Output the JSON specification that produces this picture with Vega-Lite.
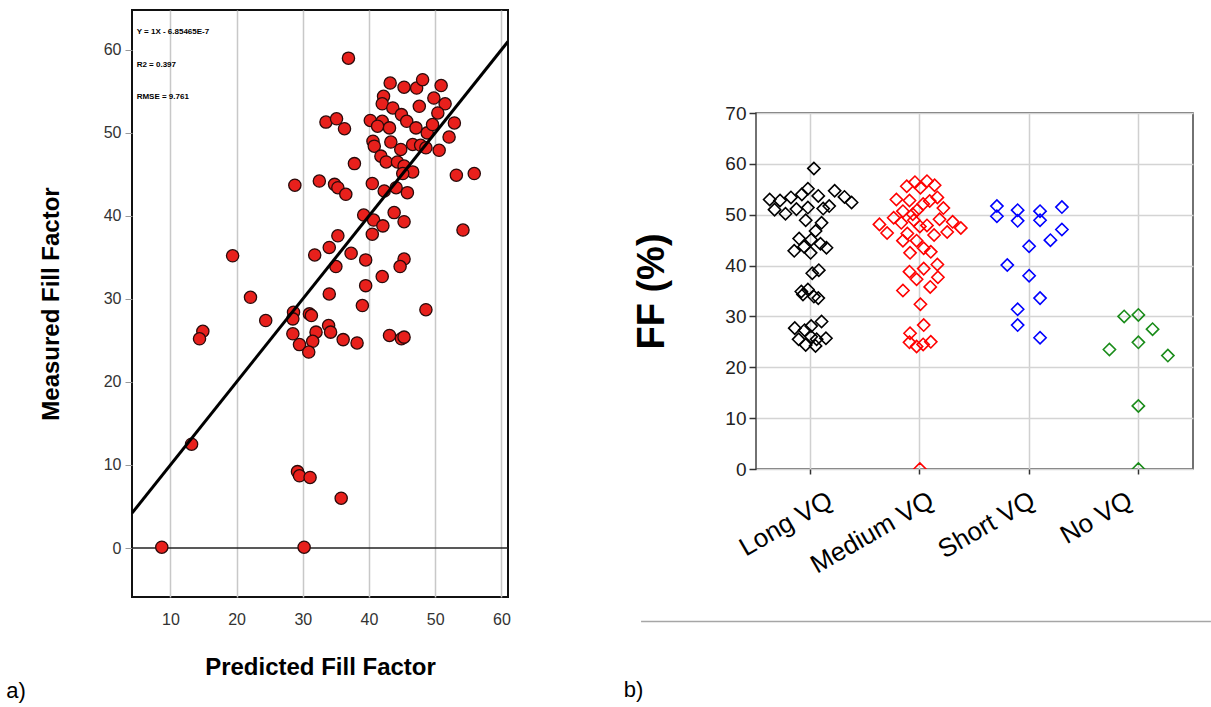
{
  "$schema": "https://vega.github.io/schema/vega-lite/v6.json",
  "background": "white",
  "padding": {"left": 5, "top": 9, "right": 0, "bottom": 0},
  "config": {"font": "Liberation Sans"},
  "datasets": {
    "scatter": [
      {"pred":36.9,"meas":59.0},{"pred":43.2,"meas":56.0},{"pred":45.3,"meas":55.5},{"pred":47.2,"meas":55.4},{"pred":48.1,"meas":56.4},{"pred":50.9,"meas":55.7},{"pred":49.8,"meas":54.2},{"pred":51.5,"meas":53.5},{"pred":42.2,"meas":54.4},{"pred":42.0,"meas":53.5},{"pred":43.6,"meas":53.0},{"pred":47.6,"meas":53.2},{"pred":44.9,"meas":52.2},{"pred":45.7,"meas":51.4},{"pred":50.4,"meas":52.4},{"pred":52.9,"meas":51.2},{"pred":52.1,"meas":49.5},{"pred":40.2,"meas":51.5},{"pred":42.0,"meas":51.4},{"pred":41.3,"meas":50.8},{"pred":43.1,"meas":50.6},{"pred":47.1,"meas":50.6},{"pred":48.8,"meas":50.0},{"pred":49.6,"meas":51.0},{"pred":33.5,"meas":51.3},{"pred":35.1,"meas":51.7},{"pred":36.3,"meas":50.5},{"pred":40.6,"meas":49.0},{"pred":40.8,"meas":48.4},{"pred":43.3,"meas":48.9},{"pred":44.8,"meas":48.0},{"pred":46.6,"meas":48.6},{"pred":47.8,"meas":48.5},{"pred":48.6,"meas":48.2},{"pred":50.6,"meas":47.9},{"pred":41.8,"meas":47.2},{"pred":42.6,"meas":46.5},{"pred":44.3,"meas":46.5},{"pred":45.3,"meas":46.0},{"pred":46.6,"meas":45.3},{"pred":45.1,"meas":45.1},{"pred":37.8,"meas":46.3},{"pred":53.2,"meas":44.9},{"pred":55.9,"meas":45.1},{"pred":28.8,"meas":43.7},{"pred":32.5,"meas":44.2},{"pred":34.8,"meas":43.8},{"pred":35.3,"meas":43.4},{"pred":36.5,"meas":42.6},{"pred":40.5,"meas":43.9},{"pred":42.3,"meas":43.0},{"pred":44.1,"meas":43.4},{"pred":45.8,"meas":42.8},{"pred":43.8,"meas":40.4},{"pred":45.3,"meas":39.3},{"pred":39.2,"meas":40.1},{"pred":40.7,"meas":39.5},{"pred":42.1,"meas":38.8},{"pred":40.5,"meas":37.8},{"pred":54.2,"meas":38.3},{"pred":35.3,"meas":37.6},{"pred":34.0,"meas":36.2},{"pred":35.0,"meas":33.9},{"pred":31.8,"meas":35.3},{"pred":37.3,"meas":35.5},{"pred":39.5,"meas":34.7},{"pred":45.3,"meas":34.8},{"pred":44.7,"meas":33.9},{"pred":42.0,"meas":32.7},{"pred":39.5,"meas":31.6},{"pred":19.4,"meas":35.2},{"pred":22.1,"meas":30.2},{"pred":34.0,"meas":30.6},{"pred":39.0,"meas":29.2},{"pred":48.6,"meas":28.7},{"pred":24.4,"meas":27.4},{"pred":28.6,"meas":28.4},{"pred":28.5,"meas":27.6},{"pred":31.0,"meas":28.2},{"pred":31.3,"meas":28.0},{"pred":33.9,"meas":26.8},{"pred":34.2,"meas":26.0},{"pred":32.0,"meas":26.0},{"pred":28.5,"meas":25.8},{"pred":29.5,"meas":24.5},{"pred":31.5,"meas":24.9},{"pred":30.9,"meas":23.6},{"pred":36.1,"meas":25.1},{"pred":38.2,"meas":24.7},{"pred":43.1,"meas":25.6},{"pred":44.9,"meas":25.2},{"pred":45.3,"meas":25.4},{"pred":14.9,"meas":26.1},{"pred":14.4,"meas":25.2},{"pred":13.2,"meas":12.5},{"pred":29.2,"meas":9.2},{"pred":29.5,"meas":8.7},{"pred":31.1,"meas":8.5},{"pred":35.8,"meas":6.0},{"pred":8.7,"meas":0.1},{"pred":30.2,"meas":0.1}
    ],
    "fit": [{"pred":4.2,"meas":4.2},{"pred":61,"meas":61}],
    "notes": [
      {"pred":4.9,"meas":62.1,"label":"Y = 1X - 6.85465E-7"},
      {"pred":4.9,"meas":58.2,"label":"R2 = 0.397"},
      {"pred":4.9,"meas":54.3,"label":"RMSE = 9.761"}
    ],
    "ff": [
      {"group":"Long VQ","ff":59.1,"jitter":0.03},{"group":"Long VQ","ff":53.0,"jitter":-0.375},{"group":"Long VQ","ff":52.8,"jitter":-0.28},{"group":"Long VQ","ff":53.4,"jitter":-0.18},{"group":"Long VQ","ff":54.0,"jitter":-0.08},{"group":"Long VQ","ff":55.1,"jitter":-0.025},{"group":"Long VQ","ff":53.7,"jitter":0.07},{"group":"Long VQ","ff":54.7,"jitter":0.22},{"group":"Long VQ","ff":53.5,"jitter":0.31},{"group":"Long VQ","ff":52.4,"jitter":0.375},{"group":"Long VQ","ff":51.0,"jitter":-0.33},{"group":"Long VQ","ff":50.2,"jitter":-0.23},{"group":"Long VQ","ff":51.1,"jitter":-0.13},{"group":"Long VQ","ff":51.4,"jitter":-0.025},{"group":"Long VQ","ff":51.2,"jitter":0.115},{"group":"Long VQ","ff":51.7,"jitter":0.17},{"group":"Long VQ","ff":48.9,"jitter":-0.045},{"group":"Long VQ","ff":48.4,"jitter":0.1},{"group":"Long VQ","ff":46.8,"jitter":0.045},{"group":"Long VQ","ff":45.3,"jitter":-0.105},{"group":"Long VQ","ff":42.9,"jitter":-0.15},{"group":"Long VQ","ff":43.7,"jitter":-0.06},{"group":"Long VQ","ff":45.1,"jitter":0.005},{"group":"Long VQ","ff":42.5,"jitter":0},{"group":"Long VQ","ff":44.3,"jitter":0.09},{"group":"Long VQ","ff":43.5,"jitter":0.145},{"group":"Long VQ","ff":38.5,"jitter":0.015},{"group":"Long VQ","ff":39.1,"jitter":0.075},{"group":"Long VQ","ff":34.9,"jitter":-0.085},{"group":"Long VQ","ff":34.3,"jitter":-0.07},{"group":"Long VQ","ff":35.3,"jitter":-0.025},{"group":"Long VQ","ff":33.9,"jitter":0.03},{"group":"Long VQ","ff":33.6,"jitter":0.07},{"group":"Long VQ","ff":27.7,"jitter":-0.145},{"group":"Long VQ","ff":27.3,"jitter":-0.055},{"group":"Long VQ","ff":28.1,"jitter":0.005},{"group":"Long VQ","ff":29.0,"jitter":0.1},{"group":"Long VQ","ff":25.5,"jitter":-0.11},{"group":"Long VQ","ff":24.4,"jitter":-0.045},{"group":"Long VQ","ff":26.0,"jitter":0.005},{"group":"Long VQ","ff":24.2,"jitter":0.045},{"group":"Long VQ","ff":25.7,"jitter":0.14},{"group":"Long VQ","ff":25.5,"jitter":0.055},
      {"group":"Medium VQ","ff":48.1,"jitter":-0.37},{"group":"Medium VQ","ff":46.4,"jitter":-0.3},{"group":"Medium VQ","ff":49.4,"jitter":-0.24},{"group":"Medium VQ","ff":53.0,"jitter":-0.215},{"group":"Medium VQ","ff":55.6,"jitter":-0.12},{"group":"Medium VQ","ff":52.8,"jitter":-0.095},{"group":"Medium VQ","ff":56.4,"jitter":-0.045},{"group":"Medium VQ","ff":55.3,"jitter":0.005},{"group":"Medium VQ","ff":56.6,"jitter":0.065},{"group":"Medium VQ","ff":55.8,"jitter":0.135},{"group":"Medium VQ","ff":52.7,"jitter":0.09},{"group":"Medium VQ","ff":53.4,"jitter":0.16},{"group":"Medium VQ","ff":51.3,"jitter":0.215},{"group":"Medium VQ","ff":50.7,"jitter":-0.155},{"group":"Medium VQ","ff":48.4,"jitter":-0.17},{"group":"Medium VQ","ff":50.1,"jitter":-0.065},{"group":"Medium VQ","ff":50.9,"jitter":-0.025},{"group":"Medium VQ","ff":52.1,"jitter":0.03},{"group":"Medium VQ","ff":48.9,"jitter":-0.055},{"group":"Medium VQ","ff":47.7,"jitter":0},{"group":"Medium VQ","ff":47.9,"jitter":0.065},{"group":"Medium VQ","ff":49.1,"jitter":0.18},{"group":"Medium VQ","ff":46.6,"jitter":0.25},{"group":"Medium VQ","ff":48.6,"jitter":0.3},{"group":"Medium VQ","ff":47.4,"jitter":0.375},{"group":"Medium VQ","ff":46.0,"jitter":0.13},{"group":"Medium VQ","ff":46.3,"jitter":-0.115},{"group":"Medium VQ","ff":44.9,"jitter":-0.155},{"group":"Medium VQ","ff":44.9,"jitter":-0.03},{"group":"Medium VQ","ff":43.4,"jitter":0.035},{"group":"Medium VQ","ff":42.7,"jitter":0.1},{"group":"Medium VQ","ff":42.5,"jitter":-0.09},{"group":"Medium VQ","ff":38.8,"jitter":-0.095},{"group":"Medium VQ","ff":37.3,"jitter":-0.03},{"group":"Medium VQ","ff":39.4,"jitter":0.035},{"group":"Medium VQ","ff":40.2,"jitter":0.16},{"group":"Medium VQ","ff":37.7,"jitter":0.165},{"group":"Medium VQ","ff":35.8,"jitter":0.095},{"group":"Medium VQ","ff":35.1,"jitter":-0.155},{"group":"Medium VQ","ff":32.4,"jitter":0.005},{"group":"Medium VQ","ff":28.3,"jitter":0.035},{"group":"Medium VQ","ff":26.7,"jitter":-0.09},{"group":"Medium VQ","ff":24.9,"jitter":-0.095},{"group":"Medium VQ","ff":24.1,"jitter":-0.03},{"group":"Medium VQ","ff":24.5,"jitter":0.03},{"group":"Medium VQ","ff":25.0,"jitter":0.1},{"group":"Medium VQ","ff":0,"jitter":0},
      {"group":"Short VQ","ff":51.7,"jitter":-0.295},{"group":"Short VQ","ff":49.7,"jitter":-0.295},{"group":"Short VQ","ff":50.9,"jitter":-0.105},{"group":"Short VQ","ff":48.8,"jitter":-0.105},{"group":"Short VQ","ff":50.7,"jitter":0.1},{"group":"Short VQ","ff":48.9,"jitter":0.1},{"group":"Short VQ","ff":51.5,"jitter":0.3},{"group":"Short VQ","ff":47.1,"jitter":0.3},{"group":"Short VQ","ff":45.0,"jitter":0.195},{"group":"Short VQ","ff":43.8,"jitter":0},{"group":"Short VQ","ff":40.1,"jitter":-0.2},{"group":"Short VQ","ff":38.0,"jitter":0},{"group":"Short VQ","ff":33.6,"jitter":0.1},{"group":"Short VQ","ff":31.4,"jitter":-0.105},{"group":"Short VQ","ff":28.3,"jitter":-0.105},{"group":"Short VQ","ff":25.8,"jitter":0.1},
      {"group":"No VQ","ff":30.0,"jitter":-0.13},{"group":"No VQ","ff":30.3,"jitter":0},{"group":"No VQ","ff":27.5,"jitter":0.13},{"group":"No VQ","ff":24.9,"jitter":0},{"group":"No VQ","ff":23.5,"jitter":-0.265},{"group":"No VQ","ff":22.3,"jitter":0.27},{"group":"No VQ","ff":12.4,"jitter":0},{"group":"No VQ","ff":0,"jitter":0}
    ]
  },
  "spacing": 111,
  "hconcat": [
    {
      "width": 376,
      "height": 587,
      "view": {"stroke": "#111111", "strokeWidth": 2},
      "title": {"text": "a)", "orient": "bottom", "anchor": "start", "frame": "bounds", "fontSize": 22, "fontWeight": "normal", "color": "#000000", "offset": 2, "dx": -33},
      "layer": [
        {
          "data": {"values": [{}]},
          "mark": {"type": "rule", "color": "#222222", "strokeWidth": 1.5},
          "encoding": {"y": {"datum": 0, "type": "quantitative"}}
        },
        {
          "data": {"name": "scatter"},
          "mark": {"type": "circle", "size": 150, "color": "#e8201c", "opacity": 1, "stroke": "#2a0a0a", "strokeWidth": 1.3},
          "encoding": {
            "x": {"field": "pred", "type": "quantitative", "scale": {"domain": [4.2, 61], "nice": false, "zero": false},
              "axis": {"values": [10, 20, 30, 40, 50, 60], "title": "Predicted Fill Factor", "titleFontSize": 24, "titleFontWeight": "bold", "titleColor": "#000000", "titlePadding": 28, "labelFontSize": 16, "labelColor": "#333333", "labelPadding": 14, "ticks": false, "tickSize": 0, "domain": false, "gridColor": "#c8c8c8", "gridWidth": 1.5, "labelFlush": false}},
            "y": {"field": "meas", "type": "quantitative", "scale": {"domain": [-5.9, 64.8], "nice": false, "zero": false},
              "axis": {"values": [0, 10, 20, 30, 40, 50, 60], "title": "Measured Fill Factor", "titleFontSize": 24, "titleFontWeight": "bold", "titleColor": "#000000", "titlePadding": 40, "labelFontSize": 16, "labelColor": "#333333", "labelPadding": 4, "tickSize": 7, "tickColor": "#999999", "domain": false, "gridColor": "#c8c8c8", "gridWidth": 1.5, "labelFlush": false}}
          }
        },
        {
          "data": {"name": "fit"},
          "mark": {"type": "line", "color": "#000000", "strokeWidth": 3, "clip": true},
          "encoding": {
            "x": {"field": "pred", "type": "quantitative"},
            "y": {"field": "meas", "type": "quantitative"}
          }
        },
        {
          "data": {"name": "notes"},
          "mark": {"type": "text", "align": "left", "baseline": "middle", "fontSize": 8, "fontWeight": "bold", "color": "#000000"},
          "encoding": {
            "x": {"field": "pred", "type": "quantitative"},
            "y": {"field": "meas", "type": "quantitative"},
            "text": {"field": "label"}
          }
        }
      ]
    },
    {
      "spacing": 0,
      "vconcat": [
        {
          "width": 437,
          "height": 93,
          "view": {"stroke": null, "fill": "#ffffff"},
          "data": {"values": []},
          "mark": {"type": "point", "opacity": 0},
          "encoding": {}
        },
        {
          "width": 437,
          "height": 356,
          "view": {"stroke": "#444444", "strokeWidth": 1.5},
          "title": {"text": "b)", "orient": "bottom", "anchor": "start", "frame": "bounds", "fontSize": 22, "fontWeight": "normal", "color": "#000000", "offset": 58, "dx": -10},
          "layer": [
            {
              "data": {"name": "ff"},
              "mark": {"type": "point", "shape": "diamond", "filled": false, "size": 150, "strokeWidth": 1.6, "opacity": 1, "clip": true},
              "encoding": {
                "x": {"field": "group", "type": "nominal", "sort": ["Long VQ", "Medium VQ", "Short VQ", "No VQ"], "scale": {"paddingInner": 0, "paddingOuter": 0},
                  "axis": {"title": null, "bandPosition": 0.5, "labelAngle": -30, "labelAlign": "right", "labelBaseline": "middle", "labelFontSize": 26, "labelColor": "#000000", "labelPadding": 24,
                    "labelOffset": {"condition": [{"test": "datum.value === 'Long VQ'", "value": 20}, {"test": "datum.value === 'Medium VQ'", "value": 12}, {"test": "datum.value === 'Short VQ'", "value": 4}], "value": -8},
                    "tickSize": 5, "tickColor": "#333333", "tickWidth": 1.5, "grid": true, "gridColor": "#d0d0d0", "gridWidth": 1.5, "domain": false}},
                "xOffset": {"field": "jitter", "type": "quantitative", "scale": {"domain": [-0.5, 0.5]}},
                "y": {"field": "ff", "type": "quantitative", "scale": {"domain": [0, 70], "nice": false},
                  "axis": {"values": [0, 5, 10, 15, 20, 25, 30, 35, 40, 45, 50, 55, 60, 65, 70], "labelExpr": "datum.value % 10 === 0 ? datum.label : ''", "title": "FF (%)", "titleFontSize": 38, "titleFontWeight": "bold", "titleColor": "#000000", "titlePadding": 53, "labelFontSize": 19, "labelColor": "#222222", "labelPadding": 3, "tickSize": {"condition": {"test": "datum.value % 10 === 0", "value": 7}, "value": 4}, "tickColor": "#333333", "tickWidth": 1.5, "domain": false, "grid": true, "gridColor": {"condition": {"test": "datum.value % 10 === 0", "value": "#d4d4d4"}, "value": "#e3e3e3"}, "gridDash": {"condition": {"test": "datum.value % 10 === 0", "value": [1, 0]}, "value": [2, 2]}, "gridWidth": 1.5, "labelFlush": false}},
                "color": {"field": "group", "type": "nominal", "scale": {"domain": ["Long VQ", "Medium VQ", "Short VQ", "No VQ"], "range": ["#000000", "#ff0000", "#0000ff", "#1a8c1a"]}, "legend": null}
              }
            },
            {
              "data": {"values": [{}]},
              "mark": {"type": "rule", "color": "#a6a6a6", "strokeWidth": 1.5, "clip": false},
              "encoding": {
                "x": {"datum": -0.263, "type": "quantitative", "scale": {"domain": [0, 1], "nice": false, "zero": false}, "axis": null},
                "x2": {"datum": 1.041},
                "y": {"datum": -30, "type": "quantitative", "scale": {"domain": [0, 70], "nice": false}}
              }
            }
          ],
          "resolve": {"scale": {"x": "independent"}}
        }
      ]
    }
  ]
}
